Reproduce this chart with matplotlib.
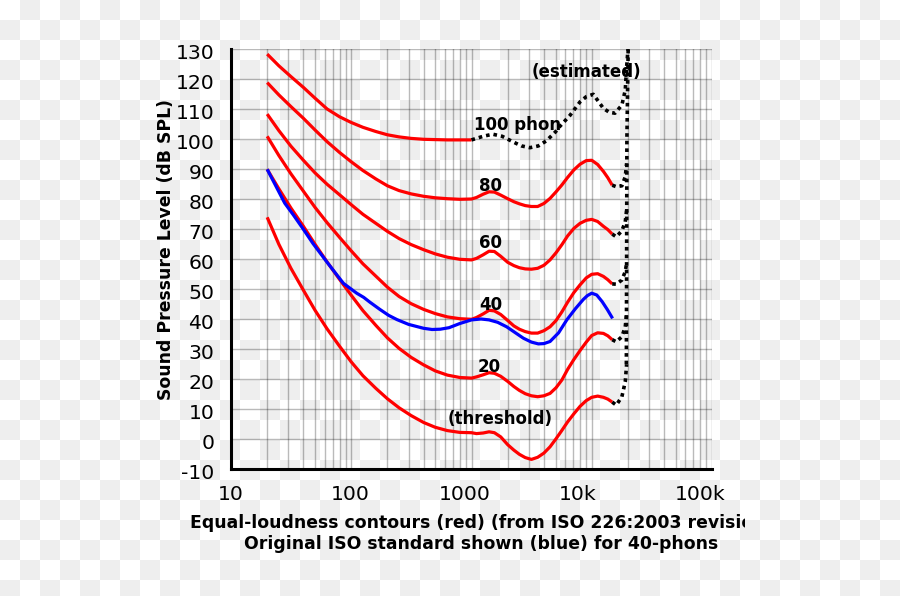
import numpy as np
import matplotlib
matplotlib.use("Agg")
import matplotlib.pyplot as plt
from matplotlib.ticker import NullFormatter
from matplotlib.transforms import ScaledTranslation, Bbox, TransformedBbox

plt.rcParams['axes.unicode_minus'] = False

# frequencies (Hz) for the left and right part of every contour
LOW_F = [20, 25, 31.5, 40, 50, 63, 80, 100, 125, 160, 200, 250, 315, 400, 500, 630, 800, 1000]
HIGH_F = [1100, 1250, 1400, 1550, 1750, 2000, 2250, 2500, 2800, 3150, 3550, 4000,
          4500, 5050, 5650, 6300, 7100, 8000, 9000, 10000, 11200, 12500, 13600, 14800]

# red contours (dB SPL)
thr_low = [74, 65, 57, 49.7, 43, 36.8, 31, 25.8, 21.2, 17, 13.5, 10.5, 7.9, 5.6, 4.0, 2.9, 2.3, 2.2]
thr_high = [1.9, 2.1, 2.5, 2.2, 0.8, -1.8, -3.6, -5.0, -6.1, -6.7, -6.0, -4.6,
            -2.5, 0.2, 3.0, 5.8, 8.5, 11.0, 12.9, 14.0, 14.4, 14.0, 13.4, 12.4]
p20_low = [90, 83.5, 77.1, 71.0, 65.0, 59.1, 53.3, 48.0, 42.9, 38.0, 33.8, 30.3, 27.3, 24.8, 22.8, 21.4, 20.6, 20.4]
p20_high = [20.8, 21.5, 22.2, 22.0, 21.0, 19.3, 17.6, 16.3, 15.2, 14.5, 14.2, 14.5,
            15.3, 17.2, 19.8, 23.3, 26.6, 29.6, 32.4, 34.6, 35.5, 35.3, 34.5, 33.2]
p40_low = [101, 94.6, 88.5, 82.7, 77.3, 72.2, 67.3, 62.8, 58.5, 54.4, 50.7, 47.6, 45.2, 43.3, 41.9, 40.8, 40.2, 40.0]
p40_high = [40.6, 41.8, 43.0, 42.8, 41.6, 39.6, 37.8, 36.7, 35.9, 35.4, 35.4, 36.2,
            37.5, 39.6, 42.5, 45.7, 48.9, 51.5, 53.8, 55.0, 55.2, 54.3, 53.2, 51.8]
p60_low = [108.4, 102.9, 97.7, 93.0, 88.8, 85.0, 81.5, 78.2, 75.0, 72.0, 69.3, 66.9, 64.9, 63.2, 61.8, 60.7, 60.0, 59.8]
p60_high = [60.3, 61.5, 62.7, 62.6, 61.0, 59.0, 57.9, 57.2, 56.8, 56.7, 57.0, 58.0,
            59.8, 62.2, 64.9, 67.8, 70.3, 72.0, 73.0, 73.3, 72.6, 71.0, 69.9, 68.4]
p80_low = [118.9, 114.8, 110.9, 107, 103.1, 99.2, 95.6, 92.5, 89.6, 86.8, 84.5, 82.9, 81.8, 81.0, 80.5, 80.2, 80.0, 80.1]
p80_high = [80.6, 81.7, 82.5, 82.4, 81.4, 80.2, 79.2, 78.5, 77.9, 77.6, 77.6, 78.6,
            80.3, 82.5, 84.8, 87.3, 89.8, 91.7, 92.9, 93.0, 91.6, 89.3, 87.2, 84.7]
p100_low = [128.4, 124.5, 120.9, 117.3, 113.7, 110.1, 107.5, 105.6, 104.0, 102.6, 101.5, 100.8, 100.3, 100.0, 99.9, 99.8, 99.8, 99.8]

# original 40 phon standard (blue)
blue_f = [20, 25, 28, 33, 40, 48, 63, 86, 111, 127, 143, 173, 205, 240, 300, 400, 470, 550, 650, 800, 1000,
          1200, 1400, 1650, 1960, 2300, 2700, 3150, 3600, 4000, 4500, 5300, 6200, 7300, 8500, 9200, 10000,
          11000, 12200, 13500, 14900]
blue_db = [90, 82.5, 78.7, 74.8, 70, 65.3, 59, 52, 48.7, 47.3, 45.7, 43.3, 41.3, 39.9, 38.3, 37.0, 36.6, 36.7,
           37.2, 38.6, 39.8, 40.1, 39.8, 39.0, 37.5, 35.6, 33.7, 32.4, 31.8, 31.9, 32.6, 35.5, 39.8, 43.5, 46.6,
           47.9, 48.7, 48.1, 45.9, 43.2, 40.3]

# estimated (dotted) parts
est100_f = [1000, 1250, 1500, 1800, 2200, 2600, 3060, 3600, 4200, 5000, 5400, 6600, 8000, 9000, 10300,
            12500, 14000, 15600, 17800, 19000, 19500, 20100]
est100_db = [99.8, 101, 101.7, 101, 99.2, 97.8, 97.2, 97.8, 99.5, 102.5, 104.2, 108, 112.5, 114.2, 115,
             110.3, 109, 108.7, 111.4, 116.4, 124, 131]
tail_f = [14800, 16000, 17800, 19000, 19500]
tail_thr = [12.4, 11.4, 14.2, 19.2, 25]
tail_20 = [33.2, 32.5, 34.2, 37.5, 42]
tail_40 = [51.8, 51.7, 53.1, 55.9, 58.7]
tail_60 = [68.4, 67.5, 69.5, 72.5, 76.4]
tail_80 = [84.7, 84.2, 84.5, 87.5, 92]
edge_f = [19400, 19500, 19600, 20100]
edge_db = [25, 60, 100, 131]

x_ticks = [10, 100, 1000, 10000, 100000]
x_ticklabels = ['10', '100', '1000', '10k', '100k']
y_ticks = list(range(-10, 131, 10))

fig = plt.figure(figsize=(9, 5.96), dpi=100)
fig.patch.set_facecolor('white')

# transparent-background checkerboard seen in the reference
yy, xx = np.mgrid[0:596, 0:900]
cells = (xx // 20 + yy // 20) % 2
bg = np.where(cells[..., None] == 1, 0xee / 255.0, 1.0) * np.ones(3)
fig.figimage(bg, xo=0, yo=0, origin='upper', zorder=-10)

ax = fig.add_axes([231 / 900, 126.7 / 596, 481 / 900, 420 / 596])
ax.set_facecolor('none')
ax.set_xscale('log')
ax.set_xlim(10, 100000)
ax.set_ylim(-10, 130)

red_kw = dict(color='#ff0000', lw=2.3, solid_capstyle='butt', solid_joinstyle='round', zorder=3)
ax.plot(LOW_F + HIGH_F, thr_low + thr_high, **red_kw)
ax.plot(LOW_F + HIGH_F, p20_low + p20_high, **red_kw)
ax.plot(LOW_F + HIGH_F, p40_low + p40_high, **red_kw)
ax.plot(LOW_F + HIGH_F, p60_low + p60_high, **red_kw)
ax.plot(LOW_F + HIGH_F, p80_low + p80_high, **red_kw)
ax.plot(LOW_F, p100_low, **red_kw)
ax.plot(blue_f, blue_db, color='#0000ff', lw=2.3, solid_capstyle='butt', solid_joinstyle='round', zorder=4)

dot_kw = dict(color='black', lw=2.6, linestyle=(0, (1, 1.1)), dash_capstyle='butt', zorder=5)
ax.plot(est100_f, est100_db, **dot_kw)
for tail in [tail_thr, tail_20, tail_40, tail_60, tail_80]:
    ax.plot(tail_f, tail, **dot_kw)
ax.plot(edge_f, edge_db, **dot_kw)

# curve labels
lab_kw = dict(fontsize=12, fontweight='bold', ha='center', va='center', zorder=6)
ax.text(2415, 104.8, '100 phon', **lab_kw)
ax.text(1439, 84.3, '80', **lab_kw)
ax.text(1450, 65.3, '60', **lab_kw)
ax.text(1450, 44.6, '40', **lab_kw)
ax.text(1400, 24.1, '20', **lab_kw)
ax.text(1742, 6.8, '(threshold)', **lab_kw)
ax.text(9080, 122.3, '(estimated)', **lab_kw)

# axes styling
ax.set_xticks(x_ticks)
ax.set_xticklabels(x_ticklabels)
ax.xaxis.set_minor_formatter(NullFormatter())
ax.set_yticks(y_ticks)
ax.set_yticklabels([str(v) for v in y_ticks])
ax.tick_params(which='both', length=0, labelsize=14.7, colors='black')
ax.tick_params(axis='x', pad=11)
ax.tick_params(axis='y', pad=12)
ax.grid(which='both', axis='x', color='black', alpha=0.27, lw=1.0, zorder=0)
ax.grid(which='major', axis='y', color='black', alpha=0.27, lw=1.0, zorder=0)
ax.set_axisbelow(True)
for side in ['top', 'right']:
    ax.spines[side].set_visible(False)
for side in ['left', 'bottom']:
    ax.spines[side].set_linewidth(2.2)
    ax.spines[side].set_color('black')

# nudge tick labels to where the original drawing put them
fig.canvas.draw()
x_shift_px = [0, -1, -6.5, -14, -12]
for lab, dx in zip(ax.get_xticklabels(), x_shift_px):
    lab.set_transform(lab.get_transform() + ScaledTranslation(dx / 100, 0, fig.dpi_scale_trans))
for lab in ax.get_yticklabels():
    lab.set_transform(lab.get_transform() + ScaledTranslation(0, -2.5 / 100, fig.dpi_scale_trans))

fig.text(166 / 900, 1 - 250 / 596, 'Sound Pressure Level (dB SPL)', rotation=90,
         fontsize=12.4, fontweight='bold', ha='center', va='center')
t1 = fig.text(481.5 / 900, 1 - 523 / 596, 'Equal-loudness contours (red) (from ISO 226:2003 revision)',
              fontsize=12.4, fontweight='bold', ha='center', va='center')
t1.set_clip_box(TransformedBbox(Bbox.from_extents(0, 0, 745 / 900, 1), fig.transFigure))
t1.set_clip_on(True)
fig.text(481.5 / 900, 1 - 544 / 596, 'Original ISO standard shown (blue) for 40-phons',
         fontsize=12.4, fontweight='bold', ha='center', va='center')

fig.savefig('out.png', dpi=100)
